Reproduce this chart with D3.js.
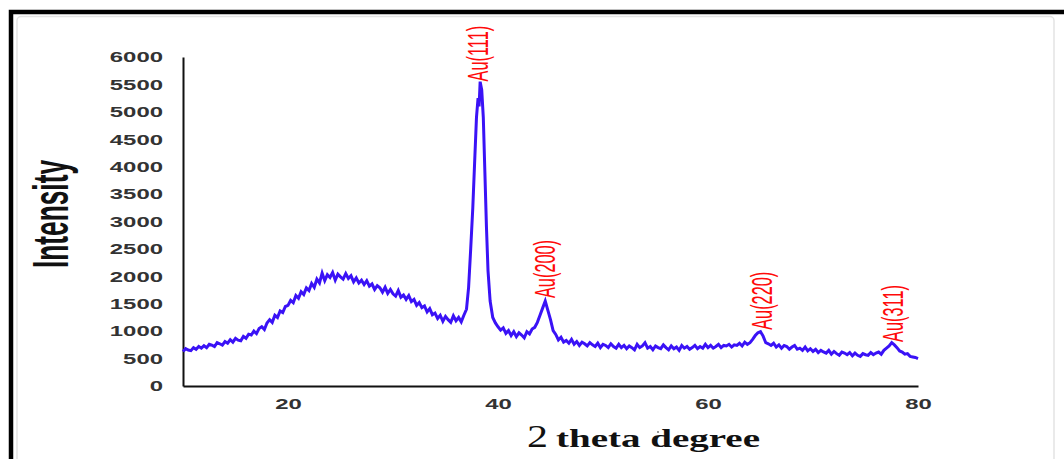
<!DOCTYPE html>
<html>
<head>
<meta charset="utf-8">
<script src="https://cdn.jsdelivr.net/npm/d3@7"></script>
<style>
  body { margin: 0; background: #fff; }
  svg { display: block; }
</style>
</head>
<body>
<svg id="chart" width="1064" height="459"></svg>
<script>
// XRD scan: diffraction angle (2θ, degrees) and measured intensity (counts)
const twoTheta = [
  10.00, 10.25, 10.50, 10.75, 11.00, 11.25, 11.50, 11.75,
  12.00, 12.25, 12.50, 12.75, 13.00, 13.25, 13.50, 13.75,
  14.00, 14.25, 14.50, 14.75, 15.00, 15.25, 15.50, 15.75,
  16.00, 16.25, 16.50, 16.75, 17.00, 17.25, 17.50, 17.75,
  18.00, 18.25, 18.50, 18.75, 19.00, 19.25, 19.50, 19.75,
  20.00, 20.25, 20.50, 20.75, 21.00, 21.25, 21.50, 21.75,
  22.00, 22.25, 22.50, 22.75, 23.00, 23.25, 23.50, 23.75,
  24.00, 24.25, 24.50, 24.75, 25.00, 25.25, 25.50, 25.75,
  26.00, 26.25, 26.50, 26.75, 27.00, 27.25, 27.50, 27.75,
  28.00, 28.25, 28.50, 28.75, 29.00, 29.25, 29.50, 29.75,
  30.00, 30.25, 30.50, 30.75, 31.00, 31.25, 31.50, 31.75,
  32.00, 32.25, 32.50, 32.75, 33.00, 33.25, 33.50, 33.75,
  34.00, 34.25, 34.50, 34.75, 35.00, 35.25, 35.50, 35.75,
  36.00, 36.25, 36.50, 36.75,
  37.00, 37.20, 37.40, 37.60, 37.80, 37.95, 38.10, 38.20, 38.30,
  38.45, 38.60, 38.75, 38.90, 39.05, 39.25, 39.50, 39.75,
  40.00, 40.25, 40.50, 40.75, 41.00, 41.25, 41.50, 41.75,
  42.00, 42.25, 42.50, 42.75, 43.00, 43.25, 43.50, 43.75,
  44.00, 44.25, 44.50, 44.75, 45.00, 45.25, 45.50, 45.75,
  46.00, 46.25, 46.50, 46.75, 47.00, 47.25, 47.50, 47.75,
  48.00, 48.25, 48.50, 48.75, 49.00, 49.25, 49.50, 49.75,
  50.00, 50.25, 50.50, 50.75, 51.00, 51.25, 51.50, 51.75,
  52.00, 52.25, 52.50, 52.75, 53.00, 53.25, 53.50, 53.75,
  54.00, 54.25, 54.50, 54.75, 55.00, 55.25, 55.50, 55.75,
  56.00, 56.25, 56.50, 56.75, 57.00, 57.25, 57.50, 57.75,
  58.00, 58.25, 58.50, 58.75, 59.00, 59.25, 59.50, 59.75,
  60.00, 60.25, 60.50, 60.75, 61.00, 61.25, 61.50, 61.75,
  62.00, 62.25, 62.50, 62.75, 63.00, 63.25, 63.50, 63.75,
  64.00, 64.25, 64.50, 64.75, 65.00, 65.25, 65.50, 65.75,
  66.00, 66.25, 66.50, 66.75, 67.00, 67.25, 67.50, 67.75,
  68.00, 68.25, 68.50, 68.75, 69.00, 69.25, 69.50, 69.75,
  70.00, 70.25, 70.50, 70.75, 71.00, 71.25, 71.50, 71.75,
  72.00, 72.25, 72.50, 72.75, 73.00, 73.25, 73.50, 73.75,
  74.00, 74.25, 74.50, 74.75, 75.00, 75.25, 75.50, 75.75,
  76.00, 76.25, 76.50, 76.75, 77.00, 77.25, 77.50, 77.75,
  78.00, 78.25, 78.50, 78.75, 79.00, 79.25, 79.50, 79.75,
  80.00
];

const intensity = [
  630, 680, 655, 645, 700, 670, 720, 690,
  735, 700, 760, 745, 720, 790, 770, 745,
  810, 780, 845, 800, 870, 835, 825, 905,
  870, 945, 930, 1000, 955, 1050, 1080, 1030,
  1150, 1210, 1160, 1290, 1250, 1370, 1340, 1450,
  1470, 1560, 1520, 1650, 1600, 1720, 1670, 1790,
  1740, 1870, 1800, 1950, 1880, 2060, 1920, 2030,
  1980, 2070, 1930, 2040, 1990, 1950, 2050, 1960,
  2010, 1900, 1970, 1880, 1930, 1850, 1920, 1820,
  1860, 1760, 1830, 1790, 1710, 1800, 1690, 1760,
  1680, 1640, 1740, 1620, 1660, 1580, 1650, 1540,
  1580, 1470, 1520, 1430, 1460, 1350, 1410, 1300,
  1330, 1230, 1290, 1180, 1270, 1210, 1160, 1280,
  1190, 1250, 1170, 1290,
  1400, 1800, 2500, 3250, 4200, 4900, 5250, 5100, 5550,
  5400, 4900, 3900, 2900, 2100, 1550, 1250, 1150,
  1080, 1020, 1060, 960, 1010, 920, 990, 900,
  970, 930, 880, 990, 950, 1040, 1070, 1160,
  1290, 1420, 1550, 1380, 1210, 1010, 940, 840,
  890, 800, 830, 780, 850, 760, 810, 740,
  800, 770, 730, 790, 750, 720, 780, 700,
  760, 740, 700, 770, 720, 690, 760, 700,
  740, 680, 730, 700, 660, 760, 700, 730,
  790, 690, 720, 660, 730, 700, 680, 750,
  700, 660, 730, 680, 710, 650, 740, 690,
  720, 670, 700, 740, 680, 720, 690, 760,
  700, 740, 690, 720, 760, 700, 740, 730,
  760, 710, 750, 740, 780, 730, 800, 760,
  790, 850, 920, 970, 990, 910, 790, 770,
  740, 780, 710, 750, 690, 740, 720, 670,
  710, 740, 670, 690, 650, 710, 640, 680,
  630, 670, 610, 650, 620, 600, 650, 580,
  630, 590, 560, 620, 600, 570, 610, 550,
  600, 560, 540, 590, 570, 560, 610, 570,
  600, 620, 580, 650, 690, 730, 790, 750,
  700, 640, 620, 580, 590, 540, 530, 520,
  500
];

const yTicks = [0, 500, 1000, 1500, 2000, 2500, 3000, 3500, 4000, 4500, 5000, 5500, 6000];
const xTicks = [20, 40, 60, 80];

// Indexed gold reflections
const peakLabels = ["Au(111)", "Au(200)", "Au(220)", "Au(311)"];
const peakAngles = [38.2, 44.6, 65.2, 77.7];
const peakHeights = [5500, 1550, 970, 750];

const svg = d3.select("#chart");

// outer frame
svg.append("rect")
  .attr("x", 17).attr("y", 16.5).attr("width", 1037).attr("height", 470)
  .attr("rx", 4).attr("fill", "none").attr("stroke", "#e3e3e3").attr("stroke-width", 1.5);
svg.append("path")
  .attr("d", "M11,459V12H1064")
  .attr("fill", "none").attr("stroke", "#000").attr("stroke-width", 4.5);

const x = d3.scaleLinear().domain([10, 80]).range([183, 918]);
const y = d3.scaleLinear().domain([0, 6000]).range([386, 57]);

const charW = 13.3;
const tickFont = "'Liberation Sans', Arial, sans-serif";

const yAxis = svg.append("g")
  .attr("transform", "translate(183,0)")
  .call(d3.axisLeft(y).tickValues(yTicks).tickSize(0).tickSizeOuter(0).tickPadding(20).tickFormat(d3.format("d")));
const xAxis = svg.append("g")
  .attr("transform", "translate(0,386)")
  .call(d3.axisBottom(x).tickValues(xTicks).tickSize(0).tickSizeOuter(0).tickPadding(12).tickFormat(d3.format("d")));

[yAxis, xAxis].forEach(g => {
  g.select(".domain").attr("stroke", "#111").attr("stroke-width", 2);
  g.selectAll(".tick text")
    .attr("fill", "#333")
    .attr("font-family", tickFont)
    .attr("font-weight", "bold")
    .attr("font-size", 15)
    .attr("textLength", function () { return this.textContent.length * charW; })
    .attr("lengthAdjust", "spacingAndGlyphs");
});

// scan trace
const scan = twoTheta.map((t, i) => [t, intensity[i]]);
svg.append("path")
  .datum(scan)
  .attr("fill", "none")
  .attr("stroke", "#3a12f6")
  .attr("stroke-width", 3)
  .attr("stroke-linejoin", "miter")
  .attr("d", d3.line().x(d => x(d[0])).y(d => y(d[1])));

// reflection labels, set in a condensed form along their length
svg.append("g").selectAll("text")
  .data(peakLabels)
  .join("text")
  .attr("transform", (d, i) => `translate(${x(peakAngles[i]) + 9},${y(peakHeights[i]) - 3}) rotate(-90) scale(0.563,1)`)
  .attr("text-anchor", "start")
  .attr("font-family", tickFont)
  .attr("font-size", 29)
  .attr("fill", "#ff0a0a")
  .text(d => d);

// axis titles
svg.append("text")
  .attr("transform", "translate(68,214) rotate(-90)")
  .attr("text-anchor", "middle")
  .attr("font-family", tickFont)
  .attr("font-weight", "bold")
  .attr("font-size", 50)
  .attr("fill", "#111")
  .attr("textLength", 108)
  .attr("lengthAdjust", "spacingAndGlyphs")
  .text("Intensity");

const serif = "'Liberation Serif', 'Times New Roman', serif";
svg.append("text")
  .attr("x", 527).attr("y", 447)
  .attr("font-family", serif)
  .attr("font-size", 32)
  .attr("fill", "#111")
  .attr("textLength", 21)
  .attr("lengthAdjust", "spacingAndGlyphs")
  .text("2");
svg.append("text")
  .attr("x", 556).attr("y", 447)
  .attr("font-family", serif)
  .attr("font-weight", "bold")
  .attr("font-size", 25)
  .attr("fill", "#111")
  .attr("textLength", 204)
  .attr("lengthAdjust", "spacingAndGlyphs")
  .text("theta degree");
// small raised dot between the two words of the title
svg.append("circle")
  .attr("cx", 658).attr("cy", 432).attr("r", 1)
  .attr("fill", "#777");
</script>
</body>
</html>
